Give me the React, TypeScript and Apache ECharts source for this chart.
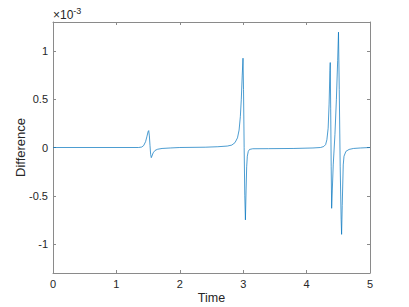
import React, { useEffect, useRef } from "react";
import * as echarts from "echarts";

// time (s) and difference (in units of 1e-3)
const times: number[] = [
  0, 1.35, 1.4, 1.43, 1.46, 1.48, 1.5, 1.51, 1.52, 1.53, 1.54, 1.55, 1.56, 1.58, 1.61, 1.65, 1.72, 1.85, 2.0,
  2.4, 2.6, 2.75, 2.82, 2.87, 2.91, 2.935, 2.955, 2.97, 2.985, 2.997, 3.005, 3.015, 3.025, 3.035, 3.045, 3.055,
  3.065, 3.08, 3.1, 3.15, 3.4, 3.8, 4.1, 4.22, 4.27, 4.3, 4.32, 4.34, 4.355, 4.368, 4.373, 4.38, 4.388, 4.395,
  4.405, 4.42, 4.447, 4.47, 4.49, 4.503, 4.515, 4.53, 4.545, 4.552, 4.562, 4.578, 4.59, 4.62, 4.67, 4.74, 4.85, 5,
];
const differences: number[] = [
  0, 0, 0.005, 0.02, 0.06, 0.11, 0.165, 0.175, 0.12, 0.02, -0.07, -0.105, -0.09, -0.055, -0.03, -0.018, -0.01,
  -0.005, 0.0, 0.003, 0.008, 0.015, 0.025, 0.05, 0.1, 0.18, 0.32, 0.5, 0.75, 0.925, 0.6, 0.0, -0.5, -0.75, -0.45,
  -0.2, -0.09, -0.04, -0.02, -0.013, -0.012, -0.01, -0.005, 0.0, 0.01, 0.03, 0.08, 0.2, 0.45, 0.8, 0.88, 0.4, -0.2,
  -0.63, -0.45, -0.18, 0.135, 0.5, 0.9, 1.195, 0.6, -0.2, -0.75, -0.9, -0.6, -0.18, -0.09, -0.04, -0.02, -0.01,
  -0.005, 0,
];
const xTicks: number[] = [0, 1, 2, 3, 4, 5];
const yTicks: number[] = [-1, -0.5, 0, 0.5, 1];
const xLimits: number[] = [0, 5];
const yLimits: number[] = [-1.3, 1.3];
const xLabel = "Time";
const yLabel = "Difference";
const exponentLabel = "-3";

const FONT = "'Liberation Sans', Arial, Helvetica, sans-serif";
const AXIS_COLOR = "#8a8a8a";
const TEXT_COLOR = "#262626";

export default function App() {
  const ref = useRef<HTMLDivElement>(null);
  useEffect(() => {
    if (!ref.current) return;
    const chart = echarts.init(ref.current, undefined, { renderer: "svg" });
    const data = times.map((t, i) => [t, differences[i]]);
    const lineStyle = { color: AXIS_COLOR, width: 1 };
    const axisLine = { show: true, onZero: false, lineStyle };
    const tickStyle = { show: true, inside: true, length: 3, lineStyle: { color: AXIS_COLOR, width: 1 } };
    chart.setOption({
      animation: false,
      backgroundColor: "#ffffff",
      grid: { left: 53, right: 39, top: 22, bottom: 34, containLabel: false, outerBoundsMode: "none" },
      xAxis: [
        {
          type: "value",
          min: xLimits[0],
          max: xLimits[1],
          interval: 1,
          position: "bottom",
          axisLine,
          axisTick: { ...tickStyle, customValues: xTicks },
          axisLabel: { customValues: xTicks, color: TEXT_COLOR, fontSize: 11, fontFamily: FONT, margin: 5 },
          splitLine: { show: false },
          name: xLabel,
          nameLocation: "middle",
          nameGap: 18,
          nameMoveOverlap: false,
          nameTextStyle: { color: TEXT_COLOR, fontSize: 12.5, fontFamily: FONT },
        },
        {
          type: "value",
          min: xLimits[0],
          max: xLimits[1],
          interval: 1,
          position: "top",
          axisLine,
          axisTick: { ...tickStyle, customValues: xTicks },
          axisLabel: { show: false },
          splitLine: { show: false },
        },
      ],
      yAxis: [
        {
          type: "value",
          min: yLimits[0],
          max: yLimits[1],
          position: "left",
          axisLine,
          axisTick: { ...tickStyle, customValues: yTicks },
          axisLabel: {
            customValues: yTicks,
            color: TEXT_COLOR,
            fontSize: 11,
            fontFamily: FONT,
            margin: 5,
            formatter: (v: number) => String(v),
          },
          splitLine: { show: false },
          name: yLabel,
          nameLocation: "middle",
          nameGap: 26,
          nameMoveOverlap: false,
          nameRotate: 90,
          nameTextStyle: { color: TEXT_COLOR, fontSize: 13, fontFamily: FONT },
        },
        {
          type: "value",
          min: yLimits[0],
          max: yLimits[1],
          position: "right",
          axisLine,
          axisTick: { ...tickStyle, customValues: yTicks },
          axisLabel: { show: false },
          splitLine: { show: false },
        },
      ],
      graphic: [
        {
          type: "text",
          left: 53,
          top: 6,
          style: {
            text: "×10{sup|" + exponentLabel + "}",
            fill: TEXT_COLOR,
            font: "12px " + FONT,
            rich: { sup: { fontSize: 9, fontFamily: FONT, fill: TEXT_COLOR, verticalAlign: "top", padding: [0, 0, 8, 0] } },
          },
        },
      ],
      series: [
        {
          type: "line",
          data,
          xAxisIndex: 0,
          yAxisIndex: 0,
          showSymbol: false,
          smooth: false,
          lineStyle: { color: "#0072BD", width: 0.7 },
        },
      ],
    });
    return () => chart.dispose();
  }, []);
  return <div ref={ref} style={{ width: 409, height: 307, position: "absolute", left: 0, top: 0 }} />;
}
